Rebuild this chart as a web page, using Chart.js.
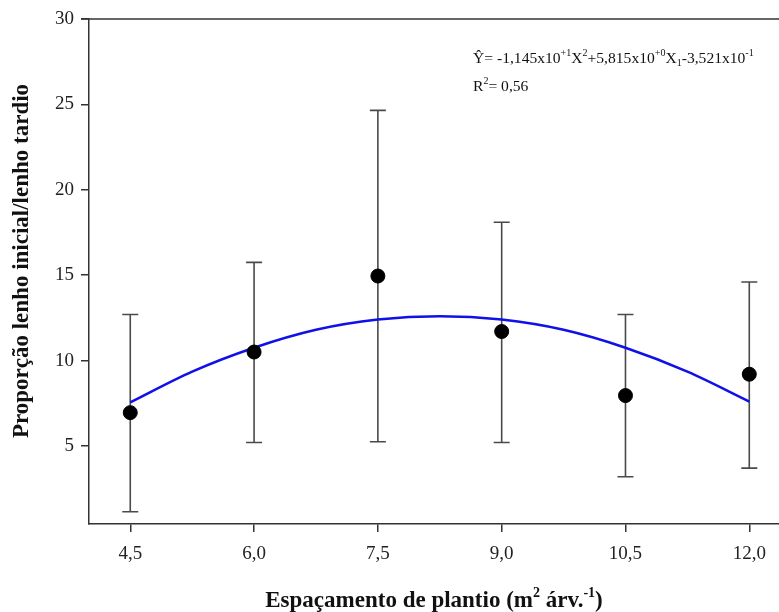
<!DOCTYPE html>
<html>
<head>
<meta charset="utf-8">
<script src="https://cdn.jsdelivr.net/npm/chart.js@4.4.1/dist/chart.umd.min.js"></script>
<style>
  html, body { margin: 0; padding: 0; background: #fff; }
  #wrap { width: 779px; height: 612px; }
</style>
</head>
<body>
<div id="wrap"><canvas id="chart"></canvas></div>
<script>
// spacing treatments (m2 per tree)
const spacing = [4.5, 6.0, 7.5, 9.0, 10.5, 12.0];
// mean ratio earlywood / latewood
const means = [6.95, 10.5, 14.95, 11.7, 7.95, 9.2];
// error bar limits
const upper = [12.7, 15.75, 24.65, 18.1, 12.7, 14.6];
const lower = [1.15, 5.2, 5.25, 5.2, 3.2, 3.7];

// fitted curve
const curveX = [4.5, 5.25, 6.0, 6.75, 7.5, 8.25, 9.0, 9.75, 10.5, 11.25, 12.0];
const curveY = [7.55, 9.35, 10.75, 11.8, 12.4, 12.6, 12.4, 11.8, 10.75, 9.35, 7.6];

const xTicks = [4.5, 6.0, 7.5, 9.0, 10.5, 12.0];
const yTicks = [5, 10, 15, 20, 25, 30];

const FONT = "'Liberation Serif', 'Times New Roman', serif";
const AXIS = '#333333';

// error bars + top frame line
const errorBars = {
  id: 'errorBars',
  beforeDatasetsDraw(chart) {
    const { ctx, chartArea, scales } = chart;
    ctx.save();
    ctx.strokeStyle = '#4a4a4a';
    ctx.lineWidth = 1.6;
    spacing.forEach((x, i) => {
      const px = scales.x.getPixelForValue(x);
      const top = scales.y.getPixelForValue(upper[i]);
      const bot = scales.y.getPixelForValue(lower[i]);
      ctx.beginPath();
      ctx.moveTo(px, top); ctx.lineTo(px, bot);
      ctx.moveTo(px - 8, top); ctx.lineTo(px + 8, top);
      ctx.moveTo(px - 8, bot); ctx.lineTo(px + 8, bot);
      ctx.stroke();
    });
    // frame on top
    ctx.strokeStyle = AXIS;
    ctx.lineWidth = 1.5;
    ctx.beginPath();
    ctx.moveTo(chartArea.left - 8, chartArea.top);
    ctx.lineTo(chart.width, chartArea.top);
    ctx.stroke();
    ctx.restore();
  }
};

// text with super/subscripts
function drawRuns(ctx, x, y, runs, base, small, bold) {
  const w = bold ? 'bold ' : '';
  runs.forEach(r => {
    const size = r.s ? small : base;
    const dy = r.s === 'sup' ? -base * 0.42 : (r.s === 'sub' ? base * 0.22 : 0);
    ctx.font = w + size + 'px ' + FONT;
    ctx.fillText(r.t, x, y + dy);
    x += ctx.measureText(r.t).width;
  });
}
function runsWidth(ctx, runs, base, small, bold) {
  const w = bold ? 'bold ' : '';
  let total = 0;
  runs.forEach(r => {
    ctx.font = w + (r.s ? small : base) + 'px ' + FONT;
    total += ctx.measureText(r.t).width;
  });
  return total;
}

const xTitle = [
  { t: 'Espaçamento de plantio (m' }, { t: '2', s: 'sup' }, { t: ' árv.' }, { t: '-1', s: 'sup' }, { t: ')' }
];
const yTitle = 'Proporção lenho inicial/lenho tardio';

const texts = {
  id: 'texts',
  afterDraw(chart) {
    const ctx = chart.ctx;
    ctx.save();
    ctx.fillStyle = '#111';
    ctx.textBaseline = 'alphabetic';
    ctx.textAlign = 'left';
    drawRuns(ctx, 473, 63, [
      { t: 'Ŷ= -1,145x10' }, { t: '+1', s: 'sup' }, { t: 'X' }, { t: '2', s: 'sup' },
      { t: '+5,815x10' }, { t: '+0', s: 'sup' }, { t: 'X' }, { t: '1', s: 'sub' },
      { t: '-3,521x10' }, { t: '-1', s: 'sup' }
    ], 15.6, 10);
    drawRuns(ctx, 473, 91, [
      { t: 'R' }, { t: '2', s: 'sup' }, { t: '= 0,56' }
    ], 15.6, 10);

    // axis titles
    const wx = runsWidth(ctx, xTitle, 23, 14, true);
    drawRuns(ctx, 434 - wx / 2, 607, xTitle, 23, 14, true);

    ctx.translate(22, 261);
    ctx.rotate(-Math.PI / 2);
    ctx.textAlign = 'center';
    ctx.textBaseline = 'middle';
    ctx.font = 'bold 23px ' + FONT;
    ctx.fillText(yTitle, 0, 0);
    ctx.restore();
  }
};

new Chart(document.getElementById('chart'), {
  type: 'scatter',
  data: {
    datasets: [
      {
        label: 'Média',
        data: spacing.map((x, i) => ({ x: x, y: means[i] })),
        backgroundColor: '#000',
        borderColor: '#000',
        pointRadius: 7,
        pointHoverRadius: 7,
        order: 0
      },
      {
        type: 'line',
        label: 'Ajuste',
        data: curveX.map((x, i) => ({ x: x, y: curveY[i] })),
        borderColor: '#1010e8',
        borderWidth: 2.5,
        pointRadius: 0,
        fill: false,
        cubicInterpolationMode: 'monotone',
        order: 1
      }
    ]
  },
  options: {
    responsive: true,
    maintainAspectRatio: false,
    animation: false,
    layout: { autoPadding: false, padding: { top: 19, right: 0, left: 0, bottom: 0 } },
    plugins: {
      legend: { display: false },
      tooltip: { enabled: false }
    },
    scales: {
      x: {
        type: 'linear',
        min: 4.0,
        max: 12.36,
        afterBuildTicks: s => { s.ticks = xTicks.map(v => ({ value: v })); },
        afterFit: s => { s.height = 88; s.paddingRight = 0; s.paddingLeft = 0; },
        grid: { drawOnChartArea: false, drawTicks: true, tickLength: 8, color: AXIS, lineWidth: 1.5 },
        border: { display: true, color: AXIS, width: 1.5 },
        ticks: {
          padding: 11,
          color: '#222',
          font: { family: FONT, size: 19 },
          callback: v => v.toFixed(1).replace('.', ',')
        }
      },
      y: {
        min: 0.43,
        max: 30,
        afterBuildTicks: s => { s.ticks = yTicks.map(v => ({ value: v })); },
        afterFit: s => { s.width = 89; s.paddingTop = 0; s.paddingBottom = 0; },
        grid: { drawOnChartArea: false, drawTicks: true, tickLength: 8, color: AXIS, lineWidth: 1.5 },
        border: { display: true, color: AXIS, width: 1.5 },
        ticks: {
          padding: 7,
          color: '#222',
          font: { family: FONT, size: 19 }
        }
      }
    }
  },
  plugins: [errorBars, texts]
});
</script>
</body>
</html>
